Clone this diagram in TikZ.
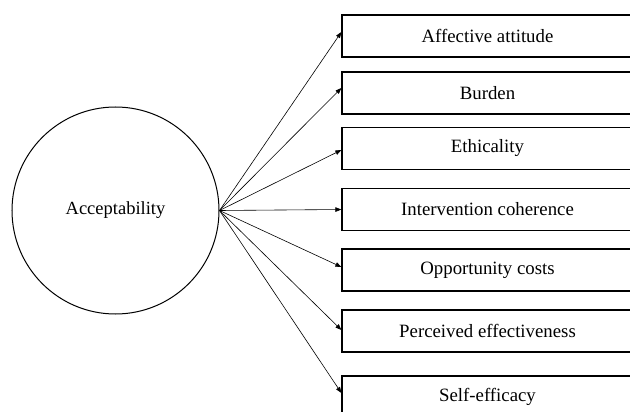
\documentclass[tikz,border=0pt]{standalone}
\usepackage{fontspec}
\setmainfont{Liberation Serif}
\usetikzlibrary{arrows.meta}
\begin{document}
\begin{tikzpicture}[x=1pt,y=-1pt,
  factor/.style={draw, line width=1.2pt, minimum width=291pt, minimum height=42pt,
    inner sep=0pt, font=\fontsize{18.8}{22}\selectfont},
  core/.style={draw, circle, line width=1pt, minimum size=207pt, inner sep=0pt,
    font=\fontsize{18.5}{22}\selectfont},
  link/.style={-{Triangle[length=6pt,width=4.5pt]}, line width=0.6pt}]
\useasboundingbox (0,0) rectangle (630,412);
\clip (0,0) rectangle (630,412);

% central construct
\node[core] (acc) at (115.5,210.5) {Acceptability};

% component constructs
\node[factor] (f1) at (487.5,36)    {Affective attitude};
\node[factor] (f2) at (487.5,93)    {Burden};
\node[factor] (f3) at (487.5,148.5) {Ethicality};
\node[factor] (f4) at (487.5,209.5) {Intervention coherence};
\node[factor] (f5) at (487.5,270)   {Opportunity costs};
\node[factor] (f6) at (487.5,331)   {Perceived effectiveness};
\node[factor] (f7) at (487.5,397)   {Self-efficacy};

% links from the central construct
\draw[link] (acc.east) -- ([yshift=4pt]f1.west);
\draw[link] (acc.east) -- ([yshift=5pt]f2.west);
\draw[link] (acc.east) -- ([yshift=-1.5pt]f3.west);
\draw[link] (acc.east) -- (f4.west);
\draw[link] (acc.east) -- ([yshift=3pt]f5.west);
\draw[link] (acc.east) -- ([yshift=1pt]f6.west);
\draw[link] (acc.east) -- ([yshift=4pt]f7.west);
\end{tikzpicture}
\end{document}
